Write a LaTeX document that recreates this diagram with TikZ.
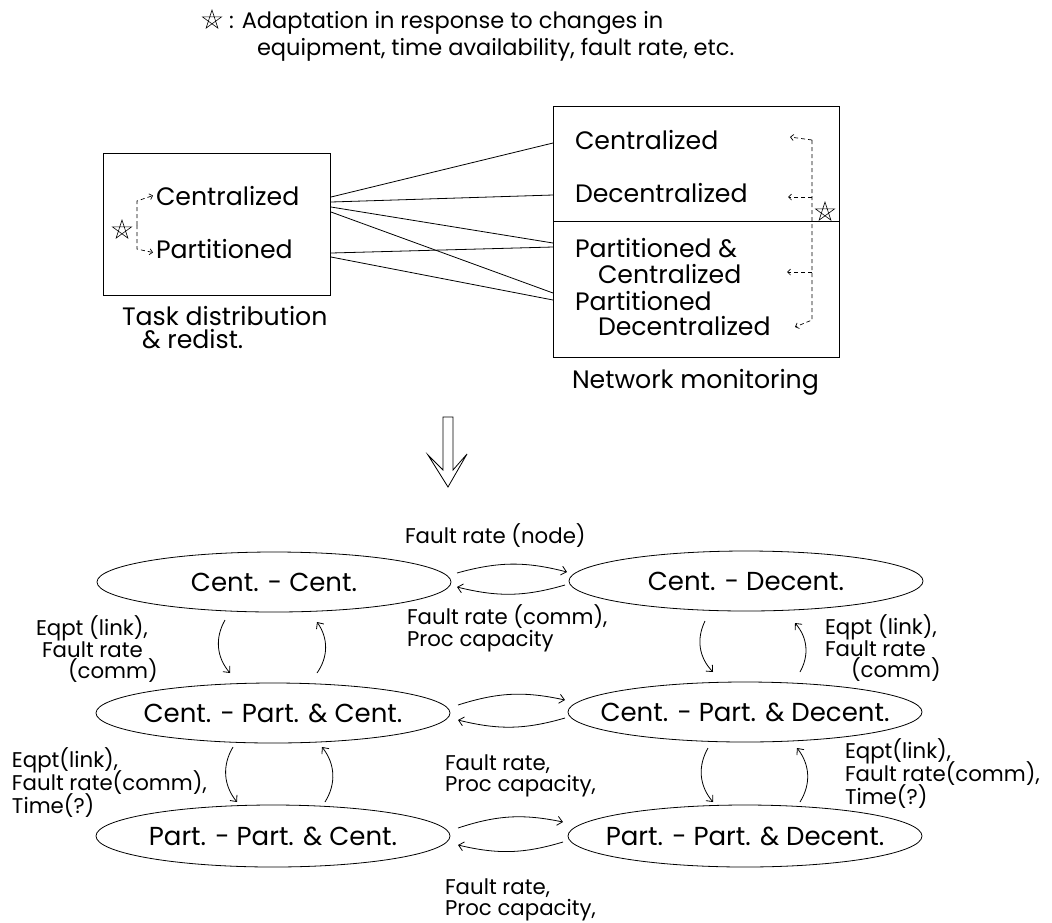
\documentclass[tikz,border=0pt]{standalone}
\usepackage{fontspec}
\setmainfont{Poppins}
\usetikzlibrary{shapes.geometric,arrows.meta}

\begin{document}
\begin{tikzpicture}[x=1pt,y=-1pt,
  every node/.style={inner sep=0pt, outer sep=0pt},
  line/.style={line width=0.8pt},
  legtext/.style={anchor=base west, font=\fontsize{22.5}{27}\selectfont},
  boxtext/.style={anchor=base west, font=\fontsize{25.2}{29}\selectfont},
  lbl/.style={anchor=base west, font=\fontsize{21.3}{25}\selectfont},
  state/.style={draw, ellipse, line width=0.8pt, inner xsep=-45pt, inner ysep=0pt,
    minimum width=354pt, minimum height=60pt, font=\fontsize{26}{30}\selectfont},
  trans/.style={line width=0.8pt, -{Straight Barb[length=5pt,width=9pt]}},
  adapt/.style={line width=0.7pt, dash pattern=on 4pt off 3pt,
    -{Straight Barb[length=3pt,width=6pt]}},
  pstar/.pic={\draw[line width=0.6pt] (-90:10) -- (54:10) -- (198:10)
    -- (-18:10) -- (126:10) -- cycle;},
]
\useasboundingbox (0,0) rectangle (1052,922);

% legend
\pic at (212,20) {pstar};
\node[legtext] (leg1) at (229,28) {: Adaptation in response to changes in};
\node[legtext] (leg2) at (257,55) {equipment, time availability, fault rate, etc.};

% task distribution box
\node[draw, line, minimum width=227pt, minimum height=142pt] (taskbox) at (216.5,224) {};
\node[boxtext] (tcent) at (156,205) {Centralized};
\node[boxtext] (tpart) at (156,258) {Partitioned};
\node[boxtext] (tcap1) at (122,325) {Task distribution};
\node[boxtext] (tcap2) at (142,348) {\& redist.};
\pic at (122,230) {pstar};
\coordinate (lsplit) at (137,225);
\draw[adapt] (lsplit) -- ++(0,-24) -- ([xshift=-3pt]tcent.west);
\draw[adapt] (lsplit) -- ++(0,24) -- ([xshift=-3pt,yshift=-4pt]tpart.west);

% network monitoring box
\node[draw, line, minimum width=286pt, minimum height=251pt] (netbox) at (696,231.5) {};
\draw[line] (netbox.west |- 0,221) -- (netbox.east |- 0,221);
\node[boxtext] (ncent) at (575,149) {Centralized};
\node[boxtext] (ndec) at (575,202) {Decentralized};
\node[boxtext] (npc1) at (575,257) {Partitioned \&};
\node[boxtext] (npc2) at (598,283) {Centralized};
\node[boxtext] (npd1) at (575,310) {Partitioned};
\node[boxtext] (npd2) at (598,335) {Decentralized};
\node[boxtext] (ncap) at (572,388) {Network monitoring};
\pic at (825,212) {pstar};
\coordinate (rtop) at (812,140);
\coordinate (rmid1) at (812,197);
\coordinate (rmid2) at (812,272);
\coordinate (rbot) at (812,320);
\draw[adapt] (rtop) -- (790,137);
\draw[adapt] (rtop) -- (rbot) -- (795,327);
\draw[adapt] (rmid1) -- (788,197);
\draw[adapt] (rmid2) -- (787,272);

% links between the two boxes
\coordinate (ta1) at (331,197);
\coordinate (ta2) at (331,202);
\coordinate (ta3) at (331,207);
\coordinate (ta4) at (331,212);
\coordinate (tb1) at (331,253);
\coordinate (tb2) at (331,257);
\coordinate (nb1) at (553,143);
\coordinate (nb2) at (553,195);
\coordinate (nb3) at (553,243);
\coordinate (nb4) at (553,293);
\coordinate (nb5) at (553,247);
\coordinate (nb6) at (553,300);
\draw[line] (ta1) -- (nb1);
\draw[line] (ta2) -- (nb2);
\draw[line] (ta3) -- (nb3);
\draw[line] (ta4) -- (nb4);
\draw[line] (tb1) -- (nb5);
\draw[line] (tb2) -- (nb6);

% hollow down arrow
\draw[line] (443,417) -- (453,417) -- (453,470) -- (467,454) -- (448,487)
  -- (428,455) -- (443,470) -- cycle;

% states
\node[state] (cc) at (274,582) {Cent. - Cent.};
\node[state] (cd) at (746,581) {Cent. - Decent.};
\node[state] (cpc) at (273,713) {Cent. - Part. \& Cent.};
\node[state] (cpd) at (745,712) {Cent. - Part. \& Decent.};
\node[state, minimum height=62pt] (ppc) at (273,836) {Part. - Part. \& Cent.};
\node[state, minimum height=62pt] (ppd) at (745,836) {Part. - Part. \& Decent.};

% horizontal transitions
\draw[trans] ([xshift=6pt,yshift=9pt]cc.east) to[bend left=15] ([xshift=-2pt,yshift=9pt]cd.west);
\draw[trans] ([xshift=-4pt,yshift=-4pt]cd.west) to[bend left=15] ([xshift=6pt,yshift=-5pt]cc.east);
\draw[trans] ([xshift=8pt,yshift=8pt]cpc.east) to[bend left=15] ([xshift=-3pt,yshift=12pt]cpd.west);
\draw[trans] ([xshift=-3pt,yshift=-6pt]cpd.west) to[bend left=15] ([xshift=8pt,yshift=-7pt]cpc.east);
\draw[trans] ([xshift=8pt,yshift=8pt]ppc.east) to[bend left=15] ([xshift=-5pt,yshift=14pt]ppd.west);
\draw[trans] ([xshift=-5pt,yshift=-6pt]ppd.west) to[bend left=15] ([xshift=8pt,yshift=-9pt]ppc.east);

% vertical transitions, left column
\draw[trans] ([xshift=-49pt,yshift=-8pt]cc.south) to[bend right=35] ([xshift=-43pt,yshift=10pt]cpc.north);
\draw[trans] ([xshift=44pt,yshift=10pt]cpc.north) to[bend right=35] ([xshift=43pt,yshift=-10pt]cc.south);
\draw[trans] ([xshift=-40pt,yshift=-4pt]cpc.south) to[bend right=35] ([xshift=-36pt,yshift=3pt]ppc.north);
\draw[trans] ([xshift=52pt,yshift=3pt]ppc.north) to[bend right=35] ([xshift=49pt,yshift=-4pt]cpc.south);

% vertical transitions, right column
\draw[trans] ([xshift=-41pt,yshift=-10pt]cd.south) to[bend right=35] ([xshift=-32pt,yshift=10pt]cpd.north);
\draw[trans] ([xshift=55pt,yshift=10pt]cpd.north) to[bend right=35] ([xshift=49pt,yshift=-12pt]cd.south);
\draw[trans] ([xshift=-37pt,yshift=-6pt]cpd.south) to[bend right=35] ([xshift=-32pt,yshift=3pt]ppd.north);
\draw[trans] ([xshift=55pt,yshift=3pt]ppd.north) to[bend right=35] ([xshift=52pt,yshift=-6pt]cpd.south);

% transition labels
\node[lbl] (fnode) at (405,543) {Fault rate (node)};
\node[lbl] (fcomm1) at (407,624) {Fault rate (comm),};
\node[lbl] (fcomm2) at (407,646) {Proc capacity};

\node[lbl] (ul1) at (36,635) {Eqpt (link),};
\node[lbl] (ul2) at (42,657) {Fault rate};
\node[lbl] (ul3) at (68,678) {(comm)};

\node[lbl] (ur1) at (825,634) {Eqpt (link),};
\node[lbl] (ur2) at (825,656) {Fault rate};
\node[lbl] (ur3) at (851,677) {(comm)};

\node[lbl] (mm1) at (445,770) {Fault rate,};
\node[lbl] (mm2) at (445,791) {Proc capacity,};

\node[lbl] (ml1) at (12,767) {Eqpt(link),};
\node[lbl] (ml2) at (12,790) {Fault rate(comm),};
\node[lbl] (ml3) at (12,813) {Time(?)};

\node[lbl] (mr1) at (845,758) {Eqpt(link),};
\node[lbl] (mr2) at (845,781) {Fault rate(comm),};
\node[lbl] (mr3) at (845,804) {Time(?)};

\node[lbl] (bm1) at (445,894) {Fault rate,};
\node[lbl] (bm2) at (445,915) {Proc capacity,};
\end{tikzpicture}
\end{document}
